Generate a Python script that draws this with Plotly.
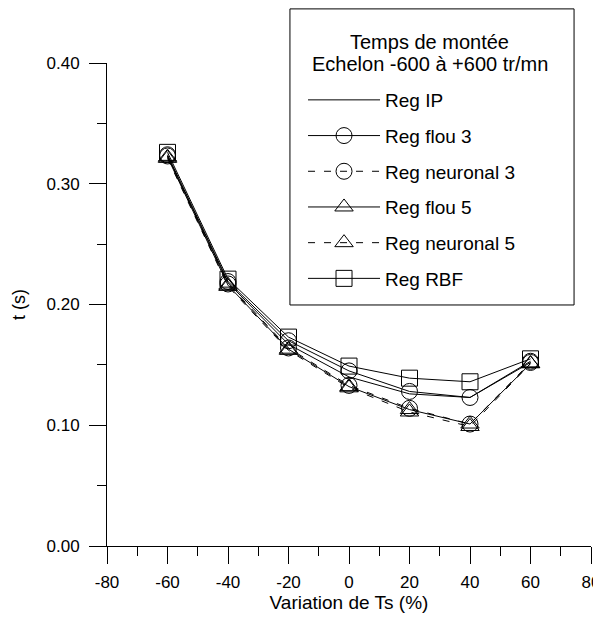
import plotly.graph_objects as go

# ---- data ----
variation_ts = [-60, -40, -20, 0, 20, 40, 60]
reg_ip = [0.323, 0.218, 0.167, 0.140, 0.126, 0.123, 0.152]
reg_flou3 = [0.324, 0.219, 0.170, 0.145, 0.128, 0.123, 0.153]
reg_neuronal3 = [0.323, 0.217, 0.164, 0.133, 0.114, 0.101, 0.152]
reg_flou5 = [0.322, 0.216, 0.163, 0.132, 0.113, 0.101, 0.151]
reg_neuronal5 = [0.321, 0.215, 0.162, 0.131, 0.111, 0.099, 0.151]
reg_rbf = [0.326, 0.221, 0.173, 0.149, 0.139, 0.136, 0.155]

x_tickvals = [-80, -60, -40, -20, 0, 20, 40, 60, 80]
x_ticktext = ["-80", "-60", "-40", "-20", "0", "20", "40", "60", "80"]
y_tickvals = [0.0, 0.1, 0.2, 0.3, 0.4]
y_ticktext = ["0.00", "0.10", "0.20", "0.30", "0.40"]

legend_title_lines = ["Temps de montée", "Echelon -600 à +600 tr/mn"]

series = [
    ("Reg IP", reg_ip, "solid", None),
    ("Reg flou 3", reg_flou3, "solid", "circle-open"),
    ("Reg neuronal 3", reg_neuronal3, "7px,9px", "circle-open"),
    ("Reg flou 5", reg_flou5, "solid", "triangle-up-open"),
    ("Reg neuronal 5", reg_neuronal5, "7px,9px", "triangle-up-open"),
    ("Reg RBF", reg_rbf, "solid", "square-open"),
]

FONT = "Liberation Sans, Arial, sans-serif"

fig = go.Figure()
for i, (name, vals, dash, sym) in enumerate(series):
    if sym is None:
        fig.add_trace(go.Scatter(
            x=variation_ts, y=vals, name=name, mode="lines",
            line=dict(color="black", width=1, dash=dash),
            legendgroup=f"g{i}"))
    else:
        fig.add_trace(go.Scatter(
            x=variation_ts, y=vals, name=name, mode="lines+markers",
            line=dict(color="black", width=1, dash=dash),
            marker=dict(symbol=sym, size=16, color="black",
                        line=dict(width=1, color="black")),
            legendgroup=f"g{i}"))

axis_common = dict(
    showline=True, linecolor="black", linewidth=1,
    ticks="outside", ticklen=17, tickwidth=1, tickcolor="black",
    showgrid=False, zeroline=False, mirror=False, automargin=False,
    tickfont=dict(size=17, color="black", family=FONT),
)

fig.update_xaxes(
    range=[-80, 80], tickmode="array", tickvals=x_tickvals, ticktext=x_ticktext,
    minor=dict(tickmode="linear", tick0=-80, dtick=10, ticks="outside",
               ticklen=9, tickcolor="black", tickwidth=1, showgrid=False),
    title=dict(text="Variation de Ts (%)", font=dict(size=19, color="black", family=FONT),
               standoff=4),
    ticklabelstandoff=4,
    **axis_common)
fig.update_yaxes(
    range=[0, 0.40], tickmode="array", tickvals=y_tickvals, ticktext=y_ticktext,
    minor=dict(tickmode="linear", tick0=0, dtick=0.05, ticks="outside",
               ticklen=9, tickcolor="black", tickwidth=1, showgrid=False),
    title=dict(text="t (s)", font=dict(size=18, color="black", family=FONT),
               standoff=16),
    ticklabelstandoff=6,
    **axis_common)

fig.update_layout(
    width=593, height=609,
    margin=dict(l=99, r=10, t=55, b=71),
    paper_bgcolor="white", plot_bgcolor="white",
    font=dict(family=FONT, color="black", size=17),
    showlegend=True,
    legend=dict(
        x=0.405, y=0.9627, xanchor="left", yanchor="top",
        bgcolor="rgba(0,0,0,0)", borderwidth=0,
        font=dict(size=19, family=FONT, color="black"),
        itemwidth=72, tracegroupgap=8, traceorder="grouped",
    ),
    shapes=[dict(type="rect", xref="paper", yref="paper",
                 x0=0.378, x1=0.965, y0=0.499, y1=1.112,
                 line=dict(color="black", width=1),
                 fillcolor="rgba(0,0,0,0)", layer="above")],
    annotations=[
        dict(text=legend_title_lines[0], xref="paper", yref="paper",
             x=0.667, y=1.0435, xanchor="center", yanchor="middle", showarrow=False,
             font=dict(size=20, family=FONT, color="black")),
        dict(text=legend_title_lines[1], xref="paper", yref="paper",
             x=0.667, y=0.998, xanchor="center", yanchor="middle", showarrow=False,
             font=dict(size=20, family=FONT, color="black")),
    ],
)

fig.write_html("out.html")
